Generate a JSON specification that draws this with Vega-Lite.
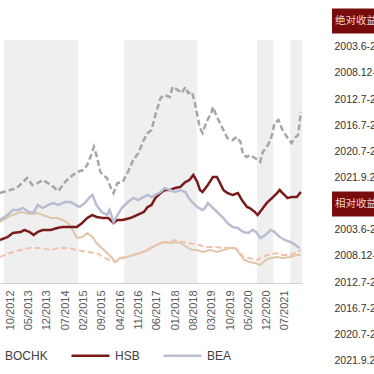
{
  "$schema": "https://vega.github.io/schema/vega-lite/v6.json",
  "padding": {"left": -40, "top": 8, "right": 0, "bottom": 0},
  "spacing": 26,
  "config": {"view": {"stroke": null}, "font": "Liberation Sans", "axis": {"labelOverlap": false}},
  "datasets": {
    "bands": [
      {"start": "2012-07-20", "end": "2014-12-01", "lo": 0, "hi": 2.43},
      {"start": "2016-05-20", "end": "2018-09-15", "lo": 0, "hi": 2.43},
      {"start": "2020-08-10", "end": "2021-02-15", "lo": 0, "hi": 2.43},
      {"start": "2021-09-01", "end": "2022-01-15", "lo": 0, "hi": 2.43}
    ],
    "lines": [
      {"s": "BOCHK", "d": "2012-06-05", "v": 0.90}, {"s": "BOCHK", "d": "2012-10-01", "v": 0.93}, {"s": "BOCHK", "d": "2012-12-16", "v": 0.95}, {"s": "BOCHK", "d": "2013-03-01", "v": 1.01}, {"s": "BOCHK", "d": "2013-04-16", "v": 1.05}, {"s": "BOCHK", "d": "2013-06-16", "v": 0.98}, {"s": "BOCHK", "d": "2013-08-16", "v": 1.00}, {"s": "BOCHK", "d": "2013-10-16", "v": 1.03}, {"s": "BOCHK", "d": "2014-01-16", "v": 0.98}, {"s": "BOCHK", "d": "2014-04-16", "v": 0.92}, {"s": "BOCHK", "d": "2014-07-01", "v": 1.01}, {"s": "BOCHK", "d": "2014-09-01", "v": 1.06}, {"s": "BOCHK", "d": "2014-11-16", "v": 1.11}, {"s": "BOCHK", "d": "2015-02-01", "v": 1.13}, {"s": "BOCHK", "d": "2015-03-16", "v": 1.18}, {"s": "BOCHK", "d": "2015-05-01", "v": 1.28}, {"s": "BOCHK", "d": "2015-06-01", "v": 1.36}, {"s": "BOCHK", "d": "2015-07-01", "v": 1.28}, {"s": "BOCHK", "d": "2015-08-16", "v": 1.11}, {"s": "BOCHK", "d": "2015-09-16", "v": 1.08}, {"s": "BOCHK", "d": "2015-11-01", "v": 1.05}, {"s": "BOCHK", "d": "2015-12-16", "v": 0.95}, {"s": "BOCHK", "d": "2016-01-16", "v": 0.90}, {"s": "BOCHK", "d": "2016-03-01", "v": 1.00}, {"s": "BOCHK", "d": "2016-05-01", "v": 1.01}, {"s": "BOCHK", "d": "2016-07-01", "v": 1.11}, {"s": "BOCHK", "d": "2016-09-01", "v": 1.23}, {"s": "BOCHK", "d": "2016-11-01", "v": 1.30}, {"s": "BOCHK", "d": "2017-01-01", "v": 1.43}, {"s": "BOCHK", "d": "2017-02-16", "v": 1.50}, {"s": "BOCHK", "d": "2017-04-01", "v": 1.53}, {"s": "BOCHK", "d": "2017-05-16", "v": 1.68}, {"s": "BOCHK", "d": "2017-07-16", "v": 1.85}, {"s": "BOCHK", "d": "2017-09-01", "v": 1.88}, {"s": "BOCHK", "d": "2017-11-01", "v": 1.86}, {"s": "BOCHK", "d": "2017-12-01", "v": 1.96}, {"s": "BOCHK", "d": "2018-02-01", "v": 1.93}, {"s": "BOCHK", "d": "2018-03-16", "v": 1.90}, {"s": "BOCHK", "d": "2018-05-01", "v": 1.96}, {"s": "BOCHK", "d": "2018-06-01", "v": 1.90}, {"s": "BOCHK", "d": "2018-07-16", "v": 1.91}, {"s": "BOCHK", "d": "2018-08-16", "v": 1.81}, {"s": "BOCHK", "d": "2018-09-16", "v": 1.68}, {"s": "BOCHK", "d": "2018-10-16", "v": 1.55}, {"s": "BOCHK", "d": "2018-11-16", "v": 1.50}, {"s": "BOCHK", "d": "2019-01-01", "v": 1.61}, {"s": "BOCHK", "d": "2019-03-01", "v": 1.71}, {"s": "BOCHK", "d": "2019-03-16", "v": 1.76}, {"s": "BOCHK", "d": "2019-05-01", "v": 1.66}, {"s": "BOCHK", "d": "2019-06-01", "v": 1.61}, {"s": "BOCHK", "d": "2019-07-16", "v": 1.53}, {"s": "BOCHK", "d": "2019-09-01", "v": 1.45}, {"s": "BOCHK", "d": "2019-11-01", "v": 1.43}, {"s": "BOCHK", "d": "2019-12-16", "v": 1.46}, {"s": "BOCHK", "d": "2020-02-01", "v": 1.41}, {"s": "BOCHK", "d": "2020-03-01", "v": 1.28}, {"s": "BOCHK", "d": "2020-04-16", "v": 1.26}, {"s": "BOCHK", "d": "2020-05-16", "v": 1.28}, {"s": "BOCHK", "d": "2020-07-16", "v": 1.25}, {"s": "BOCHK", "d": "2020-09-16", "v": 1.21}, {"s": "BOCHK", "d": "2020-10-16", "v": 1.31}, {"s": "BOCHK", "d": "2020-12-16", "v": 1.38}, {"s": "BOCHK", "d": "2021-02-01", "v": 1.48}, {"s": "BOCHK", "d": "2021-03-01", "v": 1.60}, {"s": "BOCHK", "d": "2021-04-16", "v": 1.63}, {"s": "BOCHK", "d": "2021-06-01", "v": 1.53}, {"s": "BOCHK", "d": "2021-08-01", "v": 1.45}, {"s": "BOCHK", "d": "2021-09-16", "v": 1.40}, {"s": "BOCHK", "d": "2021-11-01", "v": 1.46}, {"s": "BOCHK", "d": "2021-12-01", "v": 1.48}, {"s": "BOCHK", "d": "2022-01-01", "v": 1.71},
      {"s": "HSB", "d": "2012-06-05", "v": 0.43}, {"s": "HSB", "d": "2012-09-01", "v": 0.46}, {"s": "HSB", "d": "2012-11-01", "v": 0.50}, {"s": "HSB", "d": "2013-02-01", "v": 0.51}, {"s": "HSB", "d": "2013-03-16", "v": 0.53}, {"s": "HSB", "d": "2013-05-16", "v": 0.51}, {"s": "HSB", "d": "2013-07-01", "v": 0.48}, {"s": "HSB", "d": "2013-08-16", "v": 0.51}, {"s": "HSB", "d": "2013-10-16", "v": 0.53}, {"s": "HSB", "d": "2014-01-16", "v": 0.53}, {"s": "HSB", "d": "2014-04-01", "v": 0.55}, {"s": "HSB", "d": "2014-06-01", "v": 0.56}, {"s": "HSB", "d": "2014-09-01", "v": 0.56}, {"s": "HSB", "d": "2014-11-16", "v": 0.56}, {"s": "HSB", "d": "2015-01-16", "v": 0.60}, {"s": "HSB", "d": "2015-03-16", "v": 0.65}, {"s": "HSB", "d": "2015-05-16", "v": 0.68}, {"s": "HSB", "d": "2015-07-01", "v": 0.66}, {"s": "HSB", "d": "2015-09-16", "v": 0.65}, {"s": "HSB", "d": "2015-11-16", "v": 0.65}, {"s": "HSB", "d": "2016-01-16", "v": 0.60}, {"s": "HSB", "d": "2016-03-01", "v": 0.63}, {"s": "HSB", "d": "2016-05-01", "v": 0.63}, {"s": "HSB", "d": "2016-08-01", "v": 0.65}, {"s": "HSB", "d": "2016-10-16", "v": 0.68}, {"s": "HSB", "d": "2017-01-01", "v": 0.71}, {"s": "HSB", "d": "2017-02-16", "v": 0.76}, {"s": "HSB", "d": "2017-04-01", "v": 0.78}, {"s": "HSB", "d": "2017-05-16", "v": 0.85}, {"s": "HSB", "d": "2017-07-16", "v": 0.90}, {"s": "HSB", "d": "2017-09-01", "v": 0.93}, {"s": "HSB", "d": "2017-11-01", "v": 0.93}, {"s": "HSB", "d": "2018-01-01", "v": 0.95}, {"s": "HSB", "d": "2018-03-01", "v": 0.96}, {"s": "HSB", "d": "2018-05-01", "v": 1.01}, {"s": "HSB", "d": "2018-06-16", "v": 1.03}, {"s": "HSB", "d": "2018-08-01", "v": 1.08}, {"s": "HSB", "d": "2018-09-16", "v": 1.01}, {"s": "HSB", "d": "2018-10-16", "v": 0.93}, {"s": "HSB", "d": "2018-11-16", "v": 0.91}, {"s": "HSB", "d": "2019-01-16", "v": 0.98}, {"s": "HSB", "d": "2019-03-16", "v": 1.06}, {"s": "HSB", "d": "2019-05-01", "v": 1.06}, {"s": "HSB", "d": "2019-06-01", "v": 1.01}, {"s": "HSB", "d": "2019-07-16", "v": 0.93}, {"s": "HSB", "d": "2019-09-01", "v": 0.90}, {"s": "HSB", "d": "2019-11-01", "v": 0.88}, {"s": "HSB", "d": "2020-01-01", "v": 0.90}, {"s": "HSB", "d": "2020-02-16", "v": 0.83}, {"s": "HSB", "d": "2020-04-16", "v": 0.76}, {"s": "HSB", "d": "2020-05-16", "v": 0.75}, {"s": "HSB", "d": "2020-07-16", "v": 0.71}, {"s": "HSB", "d": "2020-08-16", "v": 0.68}, {"s": "HSB", "d": "2020-10-01", "v": 0.73}, {"s": "HSB", "d": "2020-12-01", "v": 0.80}, {"s": "HSB", "d": "2021-02-01", "v": 0.85}, {"s": "HSB", "d": "2021-04-01", "v": 0.90}, {"s": "HSB", "d": "2021-05-01", "v": 0.93}, {"s": "HSB", "d": "2021-06-01", "v": 0.90}, {"s": "HSB", "d": "2021-08-01", "v": 0.85}, {"s": "HSB", "d": "2021-09-16", "v": 0.86}, {"s": "HSB", "d": "2021-11-16", "v": 0.86}, {"s": "HSB", "d": "2022-01-01", "v": 0.91},
      {"s": "BEA", "d": "2012-06-05", "v": 0.63}, {"s": "BEA", "d": "2012-09-01", "v": 0.68}, {"s": "BEA", "d": "2012-11-01", "v": 0.73}, {"s": "BEA", "d": "2013-01-01", "v": 0.73}, {"s": "BEA", "d": "2013-03-01", "v": 0.75}, {"s": "BEA", "d": "2013-05-01", "v": 0.71}, {"s": "BEA", "d": "2013-07-01", "v": 0.70}, {"s": "BEA", "d": "2013-08-16", "v": 0.78}, {"s": "BEA", "d": "2013-10-16", "v": 0.75}, {"s": "BEA", "d": "2013-12-16", "v": 0.78}, {"s": "BEA", "d": "2014-02-16", "v": 0.80}, {"s": "BEA", "d": "2014-04-16", "v": 0.78}, {"s": "BEA", "d": "2014-07-01", "v": 0.81}, {"s": "BEA", "d": "2014-09-01", "v": 0.81}, {"s": "BEA", "d": "2014-11-01", "v": 0.78}, {"s": "BEA", "d": "2014-12-16", "v": 0.76}, {"s": "BEA", "d": "2015-02-16", "v": 0.80}, {"s": "BEA", "d": "2015-04-16", "v": 0.86}, {"s": "BEA", "d": "2015-05-16", "v": 0.88}, {"s": "BEA", "d": "2015-07-01", "v": 0.78}, {"s": "BEA", "d": "2015-09-01", "v": 0.71}, {"s": "BEA", "d": "2015-11-01", "v": 0.68}, {"s": "BEA", "d": "2015-12-01", "v": 0.73}, {"s": "BEA", "d": "2016-01-16", "v": 0.61}, {"s": "BEA", "d": "2016-03-01", "v": 0.68}, {"s": "BEA", "d": "2016-05-01", "v": 0.76}, {"s": "BEA", "d": "2016-07-01", "v": 0.81}, {"s": "BEA", "d": "2016-09-01", "v": 0.85}, {"s": "BEA", "d": "2016-11-01", "v": 0.83}, {"s": "BEA", "d": "2017-01-01", "v": 0.86}, {"s": "BEA", "d": "2017-02-16", "v": 0.88}, {"s": "BEA", "d": "2017-04-01", "v": 0.86}, {"s": "BEA", "d": "2017-05-16", "v": 0.88}, {"s": "BEA", "d": "2017-07-16", "v": 0.91}, {"s": "BEA", "d": "2017-09-01", "v": 0.95}, {"s": "BEA", "d": "2017-11-01", "v": 0.93}, {"s": "BEA", "d": "2018-01-01", "v": 0.91}, {"s": "BEA", "d": "2018-03-01", "v": 0.93}, {"s": "BEA", "d": "2018-05-01", "v": 0.91}, {"s": "BEA", "d": "2018-06-01", "v": 0.86}, {"s": "BEA", "d": "2018-07-16", "v": 0.81}, {"s": "BEA", "d": "2018-09-16", "v": 0.76}, {"s": "BEA", "d": "2018-11-16", "v": 0.73}, {"s": "BEA", "d": "2018-12-16", "v": 0.75}, {"s": "BEA", "d": "2019-01-16", "v": 0.80}, {"s": "BEA", "d": "2019-03-16", "v": 0.75}, {"s": "BEA", "d": "2019-05-16", "v": 0.70}, {"s": "BEA", "d": "2019-07-16", "v": 0.65}, {"s": "BEA", "d": "2019-09-01", "v": 0.60}, {"s": "BEA", "d": "2019-11-01", "v": 0.56}, {"s": "BEA", "d": "2020-01-01", "v": 0.55}, {"s": "BEA", "d": "2020-03-01", "v": 0.51}, {"s": "BEA", "d": "2020-05-01", "v": 0.50}, {"s": "BEA", "d": "2020-06-16", "v": 0.53}, {"s": "BEA", "d": "2020-08-01", "v": 0.51}, {"s": "BEA", "d": "2020-09-16", "v": 0.45}, {"s": "BEA", "d": "2020-11-16", "v": 0.48}, {"s": "BEA", "d": "2021-01-16", "v": 0.53}, {"s": "BEA", "d": "2021-03-01", "v": 0.51}, {"s": "BEA", "d": "2021-05-01", "v": 0.46}, {"s": "BEA", "d": "2021-07-01", "v": 0.43}, {"s": "BEA", "d": "2021-09-01", "v": 0.41}, {"s": "BEA", "d": "2021-11-01", "v": 0.38}, {"s": "BEA", "d": "2021-12-16", "v": 0.35},
      {"s": "HSI", "d": "2012-06-05", "v": 0.61}, {"s": "HSI", "d": "2012-10-01", "v": 0.67}, {"s": "HSI", "d": "2013-02-01", "v": 0.71}, {"s": "HSI", "d": "2013-05-16", "v": 0.69}, {"s": "HSI", "d": "2013-08-16", "v": 0.70}, {"s": "HSI", "d": "2013-10-16", "v": 0.68}, {"s": "HSI", "d": "2014-01-16", "v": 0.65}, {"s": "HSI", "d": "2014-04-01", "v": 0.65}, {"s": "HSI", "d": "2014-06-01", "v": 0.63}, {"s": "HSI", "d": "2014-08-01", "v": 0.60}, {"s": "HSI", "d": "2014-09-16", "v": 0.55}, {"s": "HSI", "d": "2014-11-16", "v": 0.45}, {"s": "HSI", "d": "2015-01-16", "v": 0.46}, {"s": "HSI", "d": "2015-03-16", "v": 0.50}, {"s": "HSI", "d": "2015-05-16", "v": 0.46}, {"s": "HSI", "d": "2015-07-01", "v": 0.40}, {"s": "HSI", "d": "2015-09-01", "v": 0.35}, {"s": "HSI", "d": "2015-11-01", "v": 0.30}, {"s": "HSI", "d": "2016-01-01", "v": 0.25}, {"s": "HSI", "d": "2016-02-01", "v": 0.21}, {"s": "HSI", "d": "2016-04-01", "v": 0.25}, {"s": "HSI", "d": "2016-06-16", "v": 0.26}, {"s": "HSI", "d": "2016-09-01", "v": 0.28}, {"s": "HSI", "d": "2016-11-16", "v": 0.30}, {"s": "HSI", "d": "2017-02-16", "v": 0.33}, {"s": "HSI", "d": "2017-06-01", "v": 0.38}, {"s": "HSI", "d": "2017-08-16", "v": 0.41}, {"s": "HSI", "d": "2017-11-01", "v": 0.40}, {"s": "HSI", "d": "2018-01-01", "v": 0.41}, {"s": "HSI", "d": "2018-03-01", "v": 0.40}, {"s": "HSI", "d": "2018-05-16", "v": 0.36}, {"s": "HSI", "d": "2018-07-16", "v": 0.33}, {"s": "HSI", "d": "2018-09-16", "v": 0.33}, {"s": "HSI", "d": "2018-11-16", "v": 0.31}, {"s": "HSI", "d": "2019-02-16", "v": 0.33}, {"s": "HSI", "d": "2019-05-01", "v": 0.31}, {"s": "HSI", "d": "2019-07-16", "v": 0.33}, {"s": "HSI", "d": "2019-10-01", "v": 0.35}, {"s": "HSI", "d": "2019-12-01", "v": 0.35}, {"s": "HSI", "d": "2020-02-01", "v": 0.28}, {"s": "HSI", "d": "2020-03-16", "v": 0.23}, {"s": "HSI", "d": "2020-05-16", "v": 0.21}, {"s": "HSI", "d": "2020-07-16", "v": 0.20}, {"s": "HSI", "d": "2020-09-16", "v": 0.18}, {"s": "HSI", "d": "2020-11-16", "v": 0.23}, {"s": "HSI", "d": "2021-01-16", "v": 0.25}, {"s": "HSI", "d": "2021-04-01", "v": 0.26}, {"s": "HSI", "d": "2021-06-01", "v": 0.25}, {"s": "HSI", "d": "2021-09-01", "v": 0.26}, {"s": "HSI", "d": "2021-11-16", "v": 0.28}, {"s": "HSI", "d": "2022-01-01", "v": 0.28},
      {"s": "HSFI", "d": "2012-06-05", "v": 0.26}, {"s": "HSFI", "d": "2012-10-01", "v": 0.30}, {"s": "HSFI", "d": "2013-02-01", "v": 0.33}, {"s": "HSFI", "d": "2013-05-16", "v": 0.35}, {"s": "HSFI", "d": "2013-09-16", "v": 0.35}, {"s": "HSFI", "d": "2014-01-16", "v": 0.33}, {"s": "HSFI", "d": "2014-05-01", "v": 0.35}, {"s": "HSFI", "d": "2014-08-01", "v": 0.35}, {"s": "HSFI", "d": "2014-11-16", "v": 0.33}, {"s": "HSFI", "d": "2015-03-16", "v": 0.31}, {"s": "HSFI", "d": "2015-07-01", "v": 0.30}, {"s": "HSFI", "d": "2015-09-16", "v": 0.26}, {"s": "HSFI", "d": "2015-12-01", "v": 0.23}, {"s": "HSFI", "d": "2016-02-01", "v": 0.21}, {"s": "HSFI", "d": "2016-05-01", "v": 0.25}, {"s": "HSFI", "d": "2016-09-01", "v": 0.28}, {"s": "HSFI", "d": "2017-01-01", "v": 0.31}, {"s": "HSFI", "d": "2017-03-16", "v": 0.35}, {"s": "HSFI", "d": "2017-07-16", "v": 0.40}, {"s": "HSFI", "d": "2017-10-16", "v": 0.41}, {"s": "HSFI", "d": "2018-01-01", "v": 0.43}, {"s": "HSFI", "d": "2018-03-16", "v": 0.41}, {"s": "HSFI", "d": "2018-06-16", "v": 0.40}, {"s": "HSFI", "d": "2018-10-01", "v": 0.38}, {"s": "HSFI", "d": "2019-01-01", "v": 0.36}, {"s": "HSFI", "d": "2019-04-16", "v": 0.36}, {"s": "HSFI", "d": "2019-07-16", "v": 0.35}, {"s": "HSFI", "d": "2019-11-01", "v": 0.35}, {"s": "HSFI", "d": "2020-01-01", "v": 0.33}, {"s": "HSFI", "d": "2020-03-01", "v": 0.26}, {"s": "HSFI", "d": "2020-05-16", "v": 0.25}, {"s": "HSFI", "d": "2020-08-16", "v": 0.23}, {"s": "HSFI", "d": "2020-10-01", "v": 0.26}, {"s": "HSFI", "d": "2020-12-16", "v": 0.28}, {"s": "HSFI", "d": "2021-04-01", "v": 0.30}, {"s": "HSFI", "d": "2021-06-01", "v": 0.28}, {"s": "HSFI", "d": "2021-09-01", "v": 0.28}, {"s": "HSFI", "d": "2021-11-16", "v": 0.31}, {"s": "HSFI", "d": "2022-01-01", "v": 0.33}
    ],
    "table": [
      {"row": 0, "col": "期间", "t": "绝对收益率", "h": true},
      {"row": 1, "col": "期间", "t": "2003.6-2007.10", "h": false},
      {"row": 2, "col": "期间", "t": "2008.12-2010.11", "h": false},
      {"row": 3, "col": "期间", "t": "2012.7-2014.12", "h": false},
      {"row": 4, "col": "期间", "t": "2016.7-2018.9", "h": false},
      {"row": 5, "col": "期间", "t": "2020.7-2021.2", "h": false},
      {"row": 6, "col": "期间", "t": "2021.9.22-至今", "h": false},
      {"row": 7, "col": "期间", "t": "相对收益率", "h": true},
      {"row": 8, "col": "期间", "t": "2003.6-2007.10", "h": false},
      {"row": 9, "col": "期间", "t": "2008.12-2010.11", "h": false},
      {"row": 10, "col": "期间", "t": "2012.7-2014.12", "h": false},
      {"row": 11, "col": "期间", "t": "2016.7-2018.9", "h": false},
      {"row": 12, "col": "期间", "t": "2020.7-2021.2", "h": false},
      {"row": 13, "col": "期间", "t": "2021.9.22-至今", "h": false}
    ]
  },
  "hconcat": [
    {
      "width": 302,
      "height": 275,
      "layer": [
        {
          "data": {"name": "bands"},
          "mark": {"type": "rect", "color": "#efefef"},
          "encoding": {
            "x": {
              "field": "start", "type": "temporal",
              "scale": {"domain": [{"year": 2012, "month": 6, "date": 5}, {"year": 2022, "month": 1, "date": 15}]},
              "axis": {
                "title": null, "grid": false, "ticks": false, "domainColor": "#d0d0d0", "domainWidth": 1,
                "labelAngle": -90, "labelFontSize": 11, "labelColor": "#595959", "labelPadding": 7, "labelFont": "Liberation Sans",
                "format": "%m/%Y", "labelOverlap": false, "labelFlush": false, "tickCount": 40,
                "values": [
                  {"year": 2012, "month": 10, "date": 1}, {"year": 2013, "month": 5, "date": 1}, {"year": 2013, "month": 12, "date": 1},
                  {"year": 2014, "month": 7, "date": 1}, {"year": 2015, "month": 2, "date": 1}, {"year": 2015, "month": 9, "date": 1},
                  {"year": 2016, "month": 4, "date": 1}, {"year": 2016, "month": 11, "date": 1}, {"year": 2017, "month": 6, "date": 1},
                  {"year": 2018, "month": 1, "date": 1}, {"year": 2018, "month": 8, "date": 1}, {"year": 2019, "month": 3, "date": 1},
                  {"year": 2019, "month": 10, "date": 1}, {"year": 2020, "month": 5, "date": 1}, {"year": 2020, "month": 12, "date": 1},
                  {"year": 2021, "month": 7, "date": 1}
                ]
              }
            },
            "x2": {"field": "end"},
            "y": {"field": "lo", "type": "quantitative", "scale": {"domain": [0, 2.75], "nice": false, "zero": false}, "axis": null},
            "y2": {"field": "hi"}
          }
        },
        {
          "data": {"name": "lines"},
          "transform": [{"filter": "datum.s === 'HSI'"}],
          "mark": {"type": "line", "color": "#dfc6a8", "strokeWidth": 2},
          "encoding": {
            "x": {"field": "d", "type": "temporal", "axis": {"labelOverlap": false, "tickCount": 40}},
            "y": {"field": "v", "type": "quantitative"}
          }
        },
        {
          "data": {"name": "lines"},
          "transform": [{"filter": "datum.s === 'HSFI'"}],
          "mark": {"type": "line", "color": "#f0c2aa", "strokeWidth": 2, "strokeDash": [6, 3]},
          "encoding": {
            "x": {"field": "d", "type": "temporal", "axis": {"labelOverlap": false, "tickCount": 40}},
            "y": {"field": "v", "type": "quantitative"}
          }
        },
        {
          "data": {"name": "lines"},
          "transform": [{"filter": "datum.s === 'BOCHK' || datum.s === 'HSB' || datum.s === 'BEA'"}],
          "mark": {"type": "line", "strokeWidth": 2.5},
          "encoding": {
            "x": {"field": "d", "type": "temporal", "axis": {"labelOverlap": false, "tickCount": 40}},
            "y": {"field": "v", "type": "quantitative"},
            "color": {
              "field": "s", "type": "nominal",
              "scale": {"domain": ["BOCHK", "HSB", "BEA"], "range": ["#a6a6a6", "#7a1a1a", "#b8bdd2"]},
              "legend": {
                "title": null, "orient": "none", "legendX": -40, "legendY": 327, "direction": "horizontal",
                "symbolType": "stroke", "symbolSize": 1444, "symbolStrokeWidth": 2.5,
                "labelFontSize": 12, "labelColor": "#404040", "labelFont": "Liberation Sans",
                "labelOffset": 4, "columnPadding": 18, "padding": 0
              }
            },
            "strokeDash": {
              "field": "s", "type": "nominal",
              "scale": {"domain": ["BOCHK", "HSB", "BEA"], "range": [[6, 3], [1, 0], [1, 0]]},
              "legend": {
                "title": null, "orient": "none", "legendX": -40, "legendY": 327, "direction": "horizontal",
                "symbolType": "stroke", "symbolSize": 1444, "symbolStrokeWidth": 2.5,
                "labelFontSize": 12, "labelColor": "#404040", "labelFont": "Liberation Sans",
                "labelOffset": 4, "columnPadding": 18, "padding": 0
              }
            }
          }
        }
      ]
    },
    {
      "width": 46,
      "height": 366,
      "data": {"name": "table"},
      "encoding": {
        "y": {"field": "row", "type": "ordinal", "scale": {"paddingInner": 0.04, "paddingOuter": 0.02}, "axis": null}
      },
      "layer": [
        {
          "transform": [{"filter": "datum.h"}],
          "mark": {"type": "rect", "color": "#760c0c"}
        },
        {
          "transform": [{"filter": "datum.h"}],
          "mark": {"type": "text", "align": "left", "baseline": "middle", "dx": 3, "clip": true, "fontSize": 10.5, "font": "Noto Sans CJK SC", "color": "#f3d6d6"},
          "encoding": {
            "x": {"field": "col", "type": "nominal", "scale": {"type": "point", "padding": 0, "align": 0}, "axis": null},
            "text": {"field": "t"}
          }
        },
        {
          "transform": [{"filter": "!datum.h"}],
          "mark": {"type": "text", "align": "left", "baseline": "middle", "dx": 2.5, "clip": true, "fontSize": 10.5, "font": "Liberation Sans", "color": "#333333"},
          "encoding": {
            "x": {"field": "col", "type": "nominal", "scale": {"type": "point", "padding": 0, "align": 0}, "axis": null},
            "text": {"field": "t"}
          }
        }
      ]
    }
  ]
}
